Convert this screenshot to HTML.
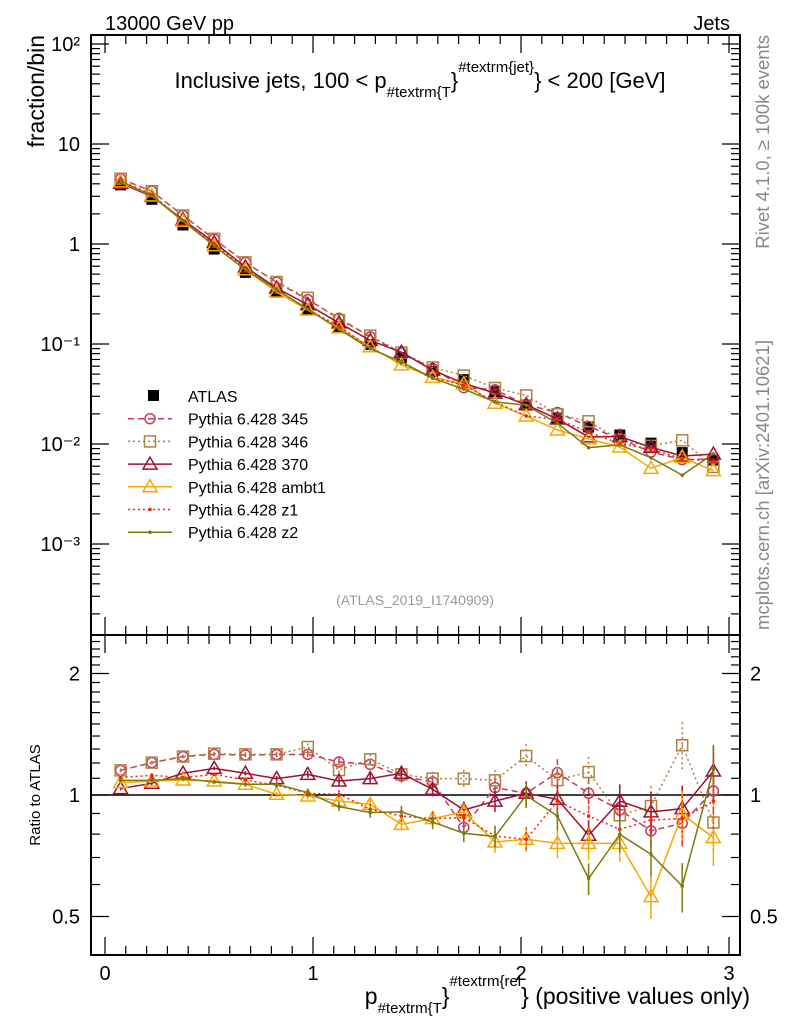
<!DOCTYPE html>
<html><head><meta charset="utf-8"><style>
body{margin:0;background:#fff;}
svg{display:block;font-family:"Liberation Sans",sans-serif;}
</style></head><body>
<svg id="chart" width="786" height="1024" viewBox="0 0 786 1024">
<text x="105" y="30" font-size="20">13000 GeV pp</text>
<text x="730" y="30" font-size="20" text-anchor="end">Jets</text>
<text x="420" y="88" font-size="22" text-anchor="middle">Inclusive jets, 100 &lt; p<tspan font-size="15" dy="9">#textrm{T</tspan><tspan dy="-9">}</tspan><tspan font-size="15" dy="-16">#textrm{jet}</tspan><tspan dy="16">} &lt; 200 [GeV]</tspan></text>
<text transform="translate(44,35) rotate(-90)" font-size="23" text-anchor="end">fraction/bin</text>
<text transform="translate(40,795) rotate(-90)" font-size="15" text-anchor="middle">Ratio to ATLAS</text>
<text transform="translate(769,35) rotate(-90)" font-size="18.5" fill="#888" text-anchor="end">Rivet 4.1.0, ≥ 100k events</text>
<text transform="translate(769,630) rotate(-90)" font-size="18.5" fill="#888" text-anchor="start">mcplots.cern.ch [arXiv:2401.10621]</text>
<text x="415" y="605" font-size="14" fill="#999" text-anchor="middle">(ATLAS_2019_I1740909)</text>
<text x="750" y="1004" font-size="23" text-anchor="end">p<tspan font-size="15" dy="9">#textrm{T</tspan><tspan dy="-9">}</tspan><tspan font-size="15" dy="-18">#textrm{rel</tspan><tspan dy="18">} (positive values only)</tspan></text>
<g id="main"></g>
<g id="ratio"></g>
<g id="legend"></g>
</svg>
<script>
const xcenters=[0.075,0.225,0.375,0.525,0.675,0.825,0.975,1.125,1.275,1.425,1.575,1.725,1.875,2.025,2.175,2.325,2.475,2.625,2.775,2.925];
const atlas=[3.9,2.8,1.55,0.89,0.52,0.33,0.22,0.15,0.099,0.073,0.053,0.044,0.0334,0.0245,0.0182,0.0148,0.0123,0.0102,0.0082,0.0069];
const r345=[1.151,1.203,1.245,1.261,1.256,1.259,1.261,1.207,1.191,1.114,1.077,0.831,1.043,1.01,1.136,1.01,0.918,0.815,0.851,1.023];
const r346=[1.151,1.203,1.245,1.266,1.261,1.261,1.315,1.153,1.226,1.125,1.098,1.098,1.087,1.249,1.089,1.14,0.891,0.939,1.328,0.855];
const r370=[1.037,1.069,1.132,1.164,1.132,1.098,1.125,1.083,1.098,1.132,1.033,0.918,0.966,1.01,0.976,0.795,0.966,0.908,0.925,1.147];
const rambt1=[1.073,1.083,1.089,1.083,1.063,1.004,0.994,0.966,0.948,0.846,0.874,0.908,0.765,0.777,0.759,0.759,0.759,0.560,0.896,0.784];
const rz1=[1.104,1.119,1.104,1.125,1.089,1.057,1.01,1.004,0.922,0.887,0.874,0.879,0.791,0.777,0.966,0.887,0.822,0.867,0.874,0.966];
const rz2=[1.087,1.087,1.098,1.077,1.063,1.063,1.014,0.936,0.905,0.908,0.857,0.804,0.789,0.998,0.887,0.621,0.799,0.713,0.595,1.158];
const relErr=[0.01,0.01,0.01,0.01,0.012,0.015,0.02,0.025,0.03,0.035,0.04,0.05,0.06,0.07,0.08,0.09,0.1,0.12,0.14,0.15];
const mainTicks=["10²","10","1","10⁻¹","10⁻²","10⁻³"];
const xTicks=["0","1","2","3"];
const ratioTicks=[0.5,1,2];

const NS="http://www.w3.org/2000/svg";
const L=91,R=740,MT=35,MB=635,RB=955;
const X=v=>105+208*v;
const Y=v=>244-100*Math.log10(v);
const RY=v=>795-121.5*Math.log2(v);
function el(p,t,a){const e=document.createElementNS(NS,t);for(const k in a)e.setAttribute(k,a[k]);p.appendChild(e);return e;}
const main=document.getElementById('main'),ratio=document.getElementById('ratio'),leg=document.getElementById('legend');

function frame(g,top,bot,name){
  const f=el(g,'rect',{x:L,y:top,width:R-L,height:bot-top,fill:'none',stroke:'#000','stroke-width':2});
  
  
  for(let i=0;i<=30;i++){const v=i/10,x=X(v);if(x<L||x>R)continue;const len=i%10==0?18:9;
    el(g,'line',{x1:x,x2:x,y1:bot,y2:bot-len,stroke:'#000','stroke-width':1.2});
    el(g,'line',{x1:x,x2:x,y1:top,y2:top+len,stroke:'#000','stroke-width':1.2});}
}
frame(main,MT,MB,'main-frame');frame(ratio,MB,RB,'ratio-frame');
for(let d=-4;d<=2;d++){for(let m=1;m<10;m++){const v=m*Math.pow(10,d),y=Y(v);if(y<MT||y>MB)continue;const len=m==1?18:9;
  el(main,'line',{x1:L,x2:L+len,y1:y,y2:y,stroke:'#000','stroke-width':1.2});
  el(main,'line',{x1:R,x2:R-len,y1:y,y2:y,stroke:'#000','stroke-width':1.2});}}
mainTicks.forEach((t,i)=>{const tx=el(main,'text',{x:80,y:Y(Math.pow(10,2-i))+7,'font-size':20,'text-anchor':'end'});tx.textContent=t;
  
  });
for(let v=0.4;v<=2.5;v+=0.1){const y=RY(v);if(y<MB||y>RB)continue;const maj=Math.abs(v-0.5)<1e-6||Math.abs(v-1)<1e-6||Math.abs(v-2)<1e-6;const len=maj?18:9;
  el(ratio,'line',{x1:L,x2:L+len,y1:y,y2:y,stroke:'#000','stroke-width':1.2});
  el(ratio,'line',{x1:R,x2:R-len,y1:y,y2:y,stroke:'#000','stroke-width':1.2});}
ratioTicks.forEach(v=>{[80,750].forEach((x,j)=>{const tx=el(ratio,'text',{x:x,y:RY(v)+7,'font-size':20,'text-anchor':j?'start':'end'});tx.textContent=String(v);
  
  });});
xTicks.forEach(t=>{const tx=el(ratio,'text',{x:X(+t),y:980,'font-size':20,'text-anchor':'middle'});tx.textContent=t;
  
  });
el(ratio,'line',{x1:L,x2:R,y1:RY(1),y2:RY(1),stroke:'#000','stroke-width':1.5});

const series=[
 {name:'Pythia 6.428 345',r:r345,c:'#c8385a',dash:'6,4',m:'circle'},
 {name:'Pythia 6.428 346',r:r346,c:'#b08040',dash:'2,3',m:'square'},
 {name:'Pythia 6.428 370',r:r370,c:'#a01030',dash:'',m:'tri'},
 {name:'Pythia 6.428 ambt1',r:rambt1,c:'#f5a800',dash:'',m:'tri'},
 {name:'Pythia 6.428 z1',r:rz1,c:'#ff2000',dash:'2,3',m:'dot'},
 {name:'Pythia 6.428 z2',r:rz2,c:'#7a7a10',dash:'',m:'dot'}];
function marker(g,m,x,y,c){
  if(m=='circle')return el(g,'circle',{cx:x,cy:y,r:5,fill:'none',stroke:c,'stroke-width':1.5});
  if(m=='square')return el(g,'rect',{x:x-5.5,y:y-5.5,width:11,height:11,fill:'none',stroke:c,'stroke-width':1.5});
  if(m=='tri')return el(g,'polygon',{points:`${x},${y-7} ${x-7},${y+5} ${x+7},${y+5}`,fill:'none',stroke:c,'stroke-width':1.5});
  return el(g,'circle',{cx:x,cy:y,r:1.8,fill:c});
}
atlas.forEach((v,i)=>{const s=el(main,'rect',{x:X(xcenters[i])-5.5,y:Y(v)-5.5,width:11,height:11,fill:'#000'});
  
  });
series.forEach((s,k)=>{
  const gm=el(main,'g',{});
  const gr=el(ratio,'g',{});
  const pm=xcenters.map((x,i)=>X(x)+','+Y(atlas[i]*s.r[i])).join(' ');
  const pr=xcenters.map((x,i)=>X(x)+','+RY(s.r[i])).join(' ');
  el(gm,'polyline',{points:pm,fill:'none',stroke:s.c,'stroke-width':1.5,'stroke-dasharray':s.dash});
  el(gr,'polyline',{points:pr,fill:'none',stroke:s.c,'stroke-width':1.5,'stroke-dasharray':s.dash});
  xcenters.forEach((x,i)=>{const v=s.r[i],e=relErr[i]*v;
    el(gr,'line',{x1:X(x),x2:X(x),y1:RY(v+e),y2:RY(Math.max(v-e,0.3)),stroke:s.c,'stroke-width':1.5,'stroke-dasharray':s.dash});
    const mm=marker(gm,s.m,X(x),Y(atlas[i]*v),s.c);
    
    
    const mr=marker(gr,s.m,X(x),RY(v),s.c);
    
    });
});
const ly0=396,ldy=22.7;
const ls=el(leg,'rect',{x:148,y:ly0-6,width:11,height:11,fill:'#000'});
let t0=el(leg,'text',{x:188,y:ly0+6,'font-size':16});t0.textContent='ATLAS';


series.forEach((s,k)=>{const y=ly0+ldy*(k+1);
  el(leg,'line',{x1:128,x2:172,y1:y,y2:y,stroke:s.c,'stroke-width':1.5,'stroke-dasharray':s.dash});
  marker(leg,s.m,150,y,s.c);
  const t=el(leg,'text',{x:188,y:y+6,'font-size':16});t.textContent=s.name;
  
  });
</script>
</body></html>
